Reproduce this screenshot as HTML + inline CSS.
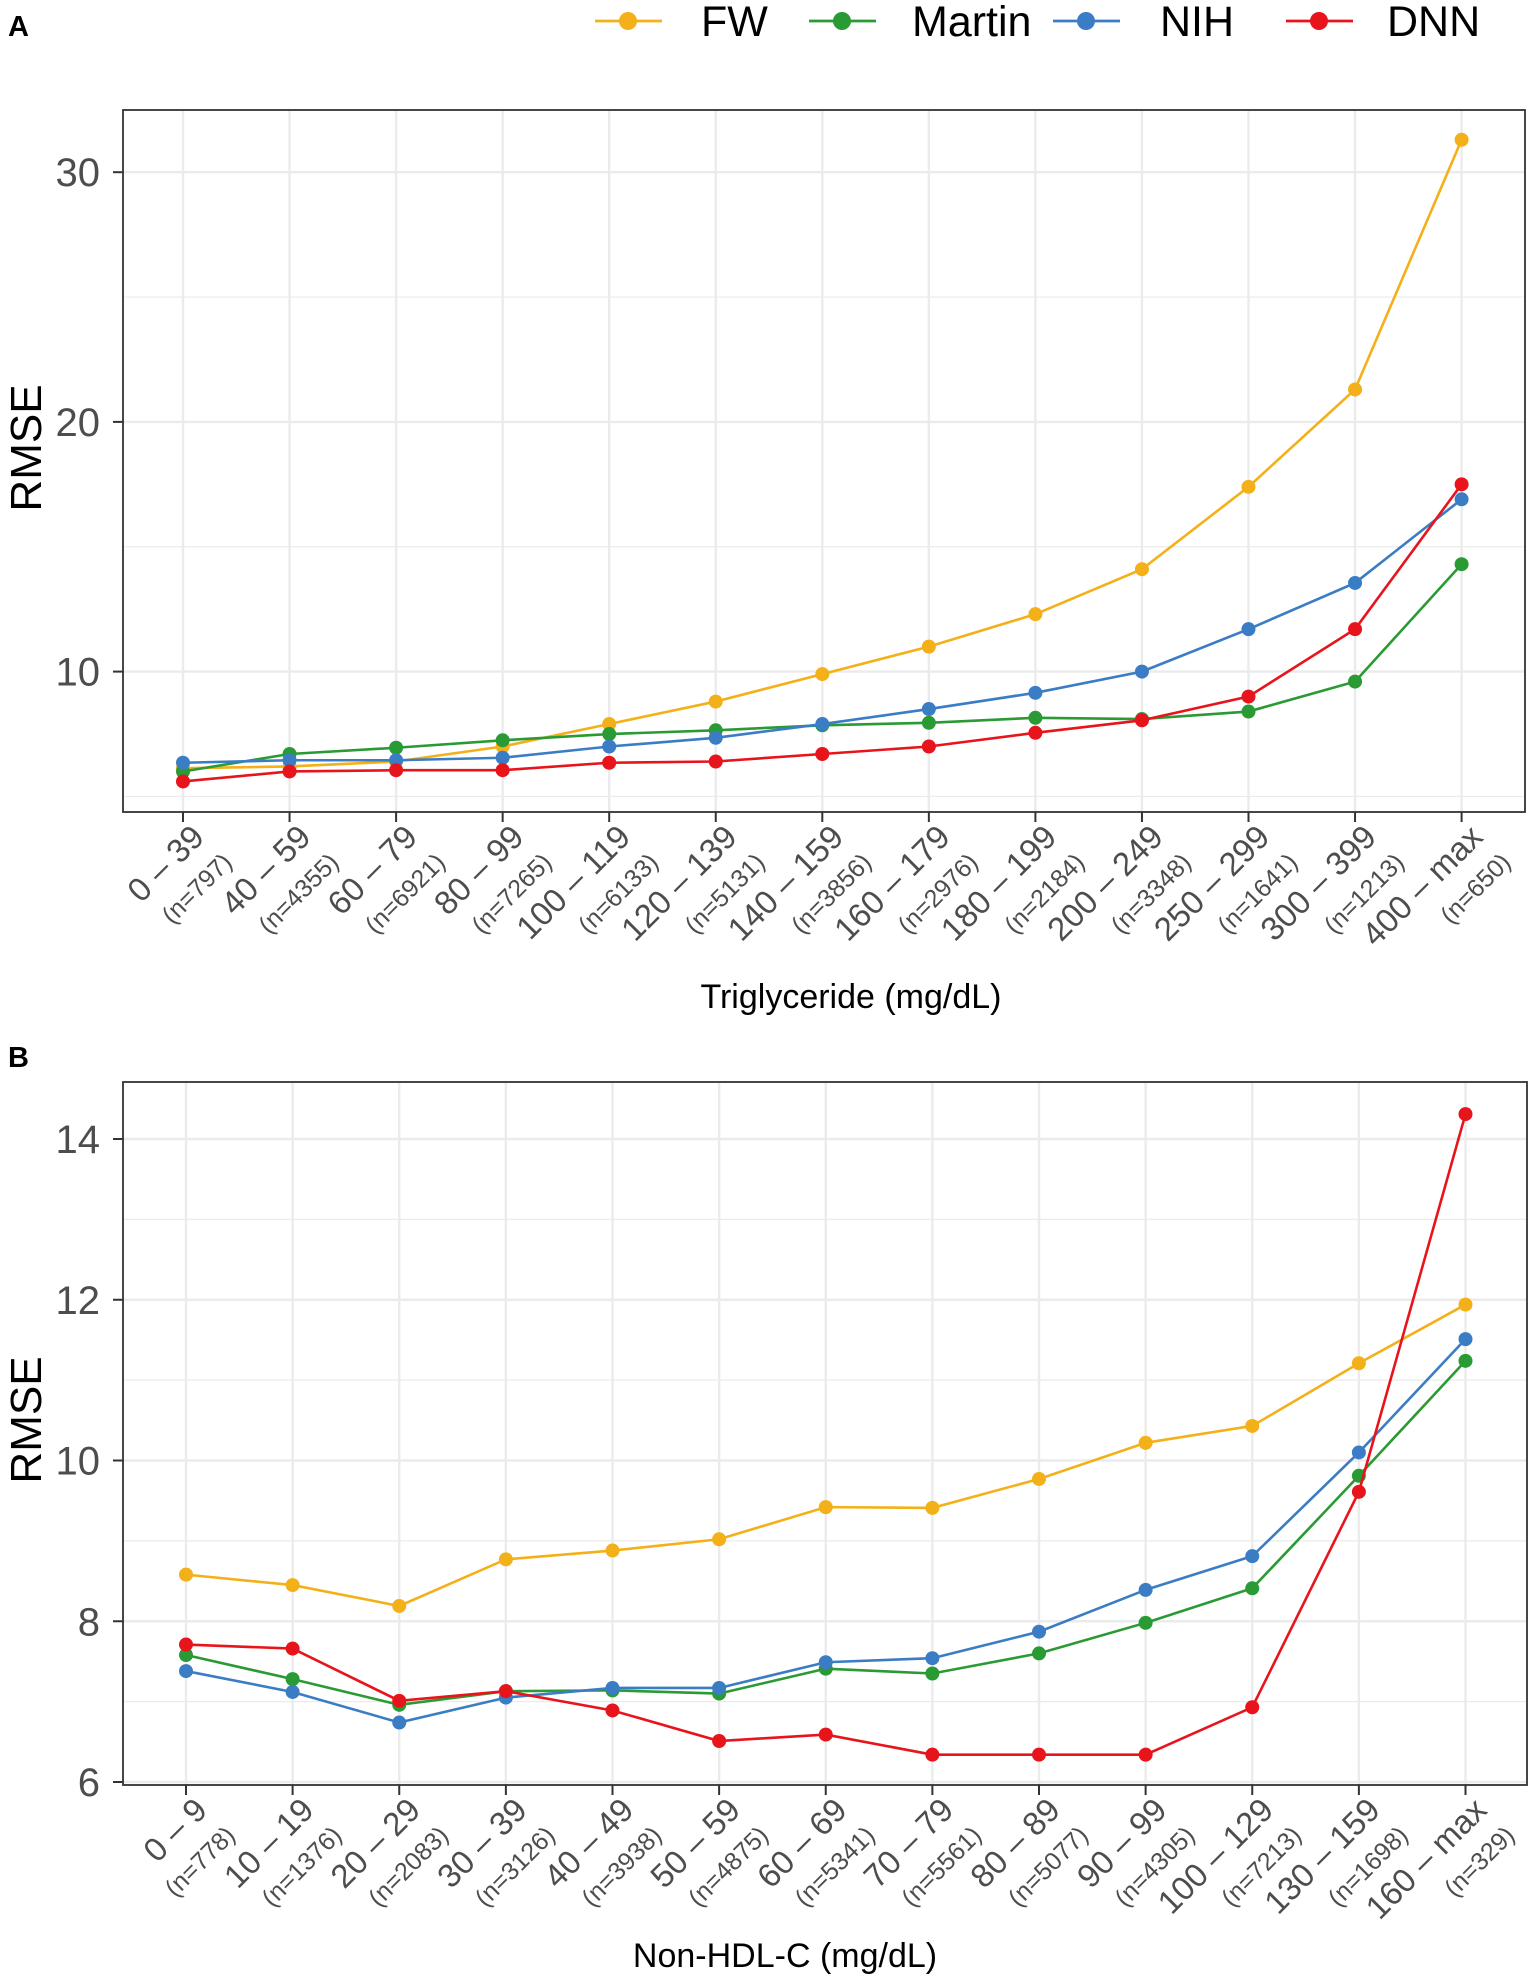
<!DOCTYPE html>
<html><head><meta charset="utf-8"><style>
html,body{margin:0;padding:0;background:#fff;}
svg{display:block;font-family:"Liberation Sans",sans-serif;}
</style></head><body>
<svg id="chart" width="1535" height="1979" viewBox="0 0 1535 1979"></svg>
<script>
const seriesNames = ["FW","Martin","NIH","DNN"];
const seriesColors = ["#F4B019","#2A9A35","#3A7DC4","#E8141C"];
const catsA = ["0 – 39","40 – 59","60 – 79","80 – 99","100 – 119","120 – 139","140 – 159","160 – 179","180 – 199","200 – 249","250 – 299","300 – 399","400 – max"];
const nA = ["(n=797)","(n=4355)","(n=6921)","(n=7265)","(n=6133)","(n=5131)","(n=3856)","(n=2976)","(n=2184)","(n=3348)","(n=1641)","(n=1213)","(n=650)"];
const fwA = [6.13,6.2,6.4,7.0,7.9,8.8,9.9,11.0,12.3,14.1,17.4,21.3,31.3];
const martinA = [6.0,6.7,6.95,7.25,7.5,7.65,7.85,7.95,8.15,8.1,8.4,9.6,14.3];
const nihA = [6.35,6.45,6.45,6.55,7.0,7.35,7.9,8.5,9.15,10.0,11.7,13.55,16.9];
const dnnA = [5.6,6.0,6.05,6.05,6.35,6.4,6.7,7.0,7.55,8.05,9.0,11.7,17.5];
const ticksA = [10,20,30];
const minorA = [5,15,25];
const catsB = ["0 – 9","10 – 19","20 – 29","30 – 39","40 – 49","50 – 59","60 – 69","70 – 79","80 – 89","90 – 99","100 – 129","130 – 159","160 – max"];
const nB = ["(n=778)","(n=1376)","(n=2083)","(n=3126)","(n=3938)","(n=4875)","(n=5341)","(n=5561)","(n=5077)","(n=4305)","(n=7213)","(n=1698)","(n=329)"];
const fwB = [8.58,8.45,8.19,8.77,8.88,9.02,9.42,9.41,9.77,10.22,10.43,11.21,11.94];
const martinB = [7.58,7.28,6.96,7.13,7.14,7.10,7.41,7.35,7.60,7.98,8.41,9.81,11.24];
const nihB = [7.38,7.12,6.74,7.05,7.17,7.17,7.49,7.54,7.87,8.39,8.81,10.10,11.51];
const dnnB = [7.71,7.66,7.01,7.13,6.89,6.51,6.59,6.34,6.34,6.34,6.93,9.61,14.31];
const ticksB = [6,8,10,12,14];
const minorB = [7,9,11,13];

const NS="http://www.w3.org/2000/svg";
const svg=document.getElementById('chart');
function mk(tag,attrs,parent){const e=document.createElementNS(NS,tag);for(const k in attrs)e.setAttribute(k,attrs[k]);(parent||svg).appendChild(e);return e;}

function panel(cfg){
  const g=mk('g',{});
  
  
  const {L,R,T,B,x0,x1,yA,vA,yB,vB}=cfg;
  const n=cfg.cats.length;
  const x=i=>x0+i*(x1-x0)/(n-1);
  const y=v=>yA+(v-vA)*(yB-yA)/(vB-vA);
  mk('rect',{x:L,y:T,width:R-L,height:B-T,fill:'#fff'},g);
  cfg.minor.forEach(v=>{const yy=y(v);if(yy>T&&yy<B){const l=mk('line',{x1:L,x2:R,y1:yy,y2:yy,stroke:'#ebebeb','stroke-width':1.2},g);
    
    }});
  cfg.ticks.forEach(v=>{const yy=y(v);const l=mk('line',{x1:L,x2:R,y1:yy,y2:yy,stroke:'#ebebeb','stroke-width':2.4},g);
    
    
    const tk=mk('line',{x1:L-10,x2:L,y1:yy,y2:yy,stroke:'#333','stroke-width':2},g);
    
    
    const t=mk('text',{x:L-23,y:yy+14,'text-anchor':'end','font-size':40,fill:'#4d4d4d'},g);t.textContent=v;
    
    });
  for(let i=0;i<n;i++){const xx=x(i);
    const l=mk('line',{x1:xx,x2:xx,y1:T,y2:B,stroke:'#ebebeb','stroke-width':2.4},g);
    
    
    const tk=mk('line',{x1:xx,x2:xx,y1:B,y2:B+10,stroke:'#333','stroke-width':2},g);
    
    
    const lg=mk('g',{transform:`translate(${xx+23},${B+27}) rotate(-45)`},g);
    
    
    const t1=mk('text',{x:0,y:0,'text-anchor':'end','font-size':33,fill:'#4d4d4d'},lg);t1.textContent=cfg.cats[i];
    const t2=mk('text',{x:2,y:37,'text-anchor':'end','font-size':25,fill:'#4d4d4d'},lg);t2.textContent=cfg.ns[i];
  }
  cfg.series.forEach((vals,si)=>{
    const sg=mk('g',{},g);
    
    
    const pts=vals.map((v,i)=>x(i)+','+y(v)).join(' ');
    const pl=mk('polyline',{points:pts,fill:'none',stroke:seriesColors[si],'stroke-width':2.6},sg);
    
    
    vals.forEach((v,i)=>{const c=mk('circle',{cx:x(i),cy:y(v),r:7,fill:seriesColors[si]},sg);
      
      });
  });
  const bd=mk('rect',{x:L,y:T,width:R-L,height:B-T,fill:'none',stroke:'#333','stroke-width':1.8},g);
  
  
  const yt=mk('text',{transform:`translate(41,${cfg.ytY}) rotate(-90)`,'text-anchor':'middle','font-size':44,fill:'#000'},g);
  yt.textContent='RMSE';
  
  
  const xt=mk('text',{x:cfg.xtX,y:cfg.xtY,'text-anchor':'middle','font-size':34,fill:'#000'},g);
  xt.textContent=cfg.xtitle;
  
  
  const pl=mk('text',{x:8,y:cfg.labY,'font-size':29,'font-weight':'bold',fill:'#000'},g);
  pl.textContent=cfg.label;
  
  
}

panel({name:'panel-a-triglyceride',L:123,R:1525,T:110,B:812,x0:183,x1:1461.6,yA:671.6,vA:10,yB:172.2,vB:30,
  cats:catsA,ns:nA,series:[fwA,martinA,nihA,dnnA],ticks:ticksA,minor:minorA,ytY:448,xtX:851,xtY:1008,xtitle:'Triglyceride (mg/dL)',label:'A',labY:36});
panel({name:'panel-b-non-hdl',L:123,R:1527,T:1082,B:1785,x0:186,x1:1465.5,yA:1782,vA:6,yB:1139,vB:14,
  cats:catsB,ns:nB,series:[fwB,martinB,nihB,dnnB],ticks:ticksB,minor:minorB,ytY:1420,xtX:785,xtY:1967,xtitle:'Non-HDL-C (mg/dL)',label:'B',labY:1067});

// legend
const legX=[628,842,1086,1319];
const legTX=[701,912,1160,1387];
const lg=mk('g',{});


seriesNames.forEach((s,i)=>{
  const e=mk('g',{},lg);
  
  
  mk('line',{x1:legX[i]-33,x2:legX[i]+34,y1:21,y2:21,stroke:seriesColors[i],'stroke-width':2.8},e);
  mk('circle',{cx:legX[i],cy:21,r:9,fill:seriesColors[i]},e);
  const t=mk('text',{x:legTX[i],y:36,'font-size':43,fill:'#000'},e);t.textContent=s;
});
</script>
</body></html>
